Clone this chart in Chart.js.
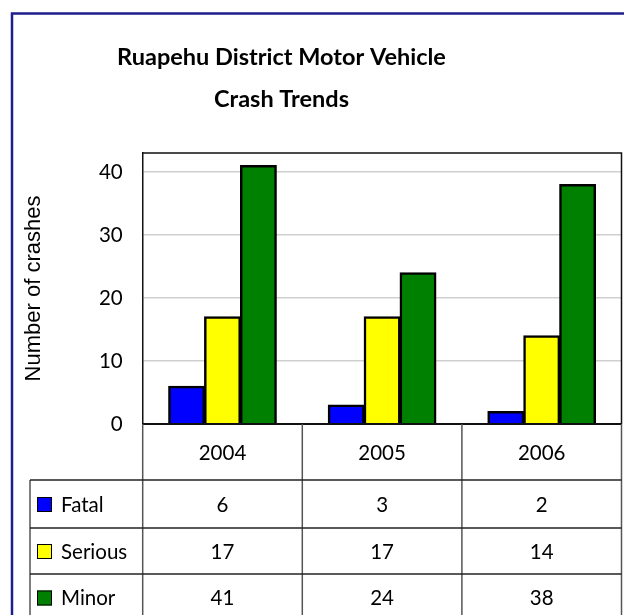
<!DOCTYPE html>
<html><head><meta charset="utf-8">
<script src="https://cdn.jsdelivr.net/npm/chart.js@4.4.1/dist/chart.umd.min.js"></script>
<style>html,body{margin:0;padding:0;background:#fff;overflow:hidden}#wrap{width:624px;height:615px;position:relative}</style>
</head><body><div id="wrap"><canvas id="c" width="624" height="615"></canvas></div>
<script>
const categories = ['2004', '2005', '2006'];
const fatal = [6, 3, 2];
const serious = [17, 17, 14];
const minor = [41, 24, 38];
const seriesNames = ['Fatal', 'Serious', 'Minor'];
const seriesColors = ['#0000ff', '#ffff00', '#008000'];
const titleLines = ['Ruapehu District Motor Vehicle', 'Crash Trends'];
const yTitle = 'Number of crashes';

const FONT = 'Lato, "Open Sans", sans-serif';

const framePlugin = {
  id: 'frame',
  afterDraw(chart) {
    const ctx = chart.ctx;
    const ca = chart.chartArea;
    const xs = chart.scales.x;
    const ys = chart.scales.y;
    const y0 = ys.getPixelForValue(0);
    ctx.save();
    // outer border
    ctx.strokeStyle = '#1e1e8c';
    ctx.lineWidth = 2.5;
    ctx.beginPath();
    ctx.moveTo(12, 640);
    ctx.lineTo(12, 13.5);
    ctx.lineTo(640, 13.5);
    ctx.stroke();
    // title
    ctx.fillStyle = '#000';
    ctx.font = 'bold 23.5px ' + FONT;
    ctx.textAlign = 'center';
    ctx.textBaseline = 'middle';
    ctx.fillText(titleLines[0], 281.5, 57);
    ctx.fillText(titleLines[1], 281.5, 99);
    // plot frame top/right
    ctx.strokeStyle = '#111';
    ctx.lineWidth = 1.5;
    ctx.beginPath();
    ctx.moveTo(ca.left, ca.top);
    ctx.lineTo(ca.right, ca.top);
    ctx.lineTo(ca.right, y0);
    ctx.stroke();
    // table
    const n = categories.length;
    const cw = (xs.right - xs.left) / n;
    const headerBottom = 480;
    const rowH = [480, 528, 574, 621];
    // axis base line
    ctx.lineWidth = 2;
    ctx.strokeStyle = '#111';
    ctx.beginPath();
    ctx.moveTo(ca.left, y0);
    ctx.lineTo(ca.right, y0);
    ctx.stroke();
    // vertical lines
    ctx.lineWidth = 1.5;
    ctx.strokeStyle = '#555';
    for (let i = 0; i <= n; i++) {
      const xx = xs.getPixelForValue(i) - cw / 2;
      ctx.beginPath();
      ctx.moveTo(xx, y0);
      ctx.lineTo(xx, 640);
      ctx.stroke();
    }
    ctx.beginPath();
    ctx.moveTo(30, headerBottom);
    ctx.lineTo(30, 640);
    ctx.stroke();
    ctx.strokeStyle = '#222';
    for (let r = 0; r < rowH.length; r++) {
      ctx.beginPath();
      ctx.moveTo(30, rowH[r]);
      ctx.lineTo(ca.right, rowH[r]);
      ctx.stroke();
    }
    // header labels
    ctx.fillStyle = '#000';
    ctx.font = '20.5px ' + FONT;
    ctx.textAlign = 'center';
    ctx.textBaseline = 'middle';
    for (let i = 0; i < n; i++) {
      ctx.fillText(categories[i], xs.getPixelForValue(i), (y0 + headerBottom) / 2 + 1);
    }
    // rows
    chart.data.datasets.forEach((ds, r) => {
      const cy = (rowH[r] + rowH[r + 1]) / 2;
      ctx.fillStyle = ds.backgroundColor;
      ctx.strokeStyle = '#000';
      ctx.lineWidth = 1;
      ctx.fillRect(37, cy - 7, 15, 15);
      ctx.strokeRect(37.5, cy - 6.5, 14, 14);
      ctx.fillStyle = '#000';
      ctx.textAlign = 'left';
      ctx.fillText(ds.label, 61, cy + 1);
      ctx.textAlign = 'center';
      ds.data.forEach((v, i) => {
        ctx.fillText(String(v), xs.getPixelForValue(i), cy + 1);
      });
    });
    ctx.restore();
  }
};

Chart.register(framePlugin);

function build() {
  new Chart(document.getElementById('c'), {
    type: 'bar',
    data: {
      labels: categories,
      datasets: [
        { label: seriesNames[0], data: fatal, backgroundColor: seriesColors[0] },
        { label: seriesNames[1], data: serious, backgroundColor: seriesColors[1] },
        { label: seriesNames[2], data: minor, backgroundColor: seriesColors[2] }
      ]
    },
    options: {
      responsive: false,
      animation: false,
      layout: { padding: { top: 153, right: 2.5, bottom: 191, left: 0 } },
      datasets: {
        bar: { categoryPercentage: 0.675, barPercentage: 1.0, borderColor: '#000', borderWidth: 2.5, inflateAmount: 0.5 }
      },
      plugins: { legend: { display: false }, tooltip: { enabled: false }, title: { display: false } },
      scales: {
        x: { display: false, offset: true },
        y: {
          min: 0, max: 43,
          afterFit(s) { s.width = 142.7; },
          border: { display: true, color: '#111', width: 1.5 },
          grid: { color: '#cfcfcf', lineWidth: 1.5, drawTicks: false },
          ticks: { stepSize: 10, includeBounds: false, padding: 20, color: '#000', font: { family: FONT, size: 20.5 } },
          title: { display: true, text: yTitle, color: '#000', padding: { top: 21, bottom: 0 }, font: { family: '"Liberation Sans", Arial, sans-serif', size: 22 } }
        }
      }
    }
  });
}
if (document.fonts && document.fonts.load) {
  Promise.all([document.fonts.load('20px Lato'), document.fonts.load('bold 23px Lato'), document.fonts.load('20px "Liberation Sans"')]).then(build, build);
} else { build(); }
</script>
</body></html>
